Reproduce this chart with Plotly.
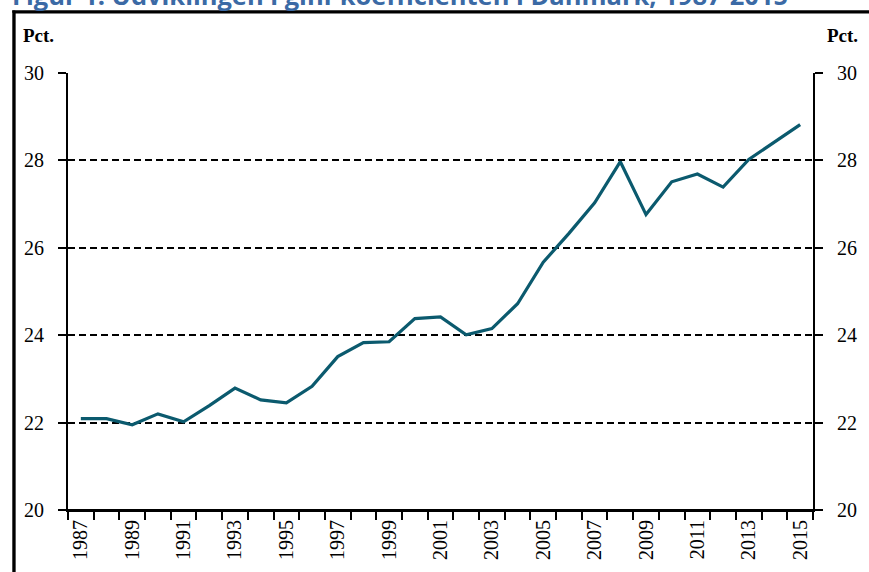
import plotly.graph_objects as go

years = list(range(1987, 2016))
gini = [22.09, 22.09, 21.95, 22.20, 22.02, 22.39, 22.79, 22.52, 22.45, 22.83,
        23.51, 23.83, 23.85, 24.38, 24.42, 24.01, 24.15, 24.72, 25.67, 26.33,
        27.03, 27.97, 26.76, 27.51, 27.69, 27.39, 28.02, 28.41, 28.82]
tick_years = list(range(1987, 2016, 2))
y_ticks = [20, 22, 24, 26, 28, 30]

title_text = "Figur 1. Udviklingen i gini-koefficienten i Danmark, 1987-2015"
unit_label = "Pct."

W, H = 869, 572
L, R, T, B = 68, 52, 73, 58
pw, ph = W - L - R, H - T - B

def px_x(px):
    return (px - L) / pw

def px_y(py):
    return (H - B - py) / ph

fig = go.Figure()
fig.add_trace(go.Scatter(x=years, y=gini, mode="lines",
                         line=dict(color="#0b5a6e", width=3.2), hoverinfo="x+y"))
fig.add_trace(go.Scatter(x=years, y=gini, mode="lines", yaxis="y2",
                         line=dict(color="rgba(0,0,0,0)", width=0), hoverinfo="skip"))

tickfont = dict(family="Liberation Serif", size=20, color="black")

fig.update_layout(
    width=W, height=H,
    margin=dict(l=L, r=R, t=T, b=B),
    paper_bgcolor="white", plot_bgcolor="white",
    showlegend=False,
    xaxis=dict(range=[1986.5, 2015.5], tickmode="array", tickvals=tick_years,
               ticktext=[str(y) for y in tick_years], tickangle=-90,
               ticks="", ticklen=0, showgrid=False, zeroline=False,
               showline=True, linecolor="black", linewidth=2,
               tickfont=tickfont,
               minor=dict(tick0=1986.5, dtick=1, ticks="outside", ticklen=8,
                          tickwidth=1.5, tickcolor="black", showgrid=False)),
    yaxis=dict(range=[20, 30], tickvals=y_ticks, ticks="outside", ticklen=8,
               tickwidth=1.5, tickcolor="black", showline=True, linecolor="black",
               linewidth=2, showgrid=True, gridcolor="black", gridwidth=1.6,
               griddash="7px,4px", zeroline=False, tickfont=tickfont,
               ticklabelstandoff=10),
    yaxis2=dict(range=[20, 30], tickvals=y_ticks, overlaying="y", side="right",
                ticks="outside", ticklen=8, tickwidth=1.5, tickcolor="black",
                showline=True, linecolor="black", linewidth=2, showgrid=False,
                zeroline=False, tickfont=tickfont, ticklabelstandoff=10),
)

# bottom solid line at 20
fig.add_shape(type="line", xref="paper", yref="paper", x0=0, x1=1, y0=0, y1=0,
              line=dict(color="black", width=2))

# outer frame: top edge and left edge
fig.add_shape(type="line", xref="paper", yref="paper", x0=px_x(12), x1=px_x(880),
              y0=px_y(11), y1=px_y(11), line=dict(color="black", width=2.5),
              layer="above")
fig.add_shape(type="line", xref="paper", yref="paper", x0=px_x(13.5), x1=px_x(13.5),
              y0=px_y(10), y1=px_y(590), line=dict(color="black", width=3),
              layer="above")
# frame as bordered box too (left + top edges fall on the page)
fig.add_annotation(text=" ", xref="paper", yref="paper",
                   x=px_x(12.5), y=px_y(10), xanchor="left", yanchor="top",
                   width=900, height=620, showarrow=False, borderpad=0,
                   bordercolor="black", borderwidth=2.5)

fig.add_annotation(text="<b>" + title_text + "</b>", xref="paper", yref="paper",
                   x=px_x(10), y=px_y(13), xanchor="left", yanchor="bottom",
                   showarrow=False,
                   font=dict(family="Open Sans", size=25.5, color="#3b6aa5"))
fig.add_annotation(text="<b>" + unit_label + "</b>", xref="paper", yref="paper",
                   x=px_x(21), y=px_y(35), xanchor="left", yanchor="middle",
                   showarrow=False,
                   font=dict(family="Liberation Serif", size=19, color="black"))
fig.add_annotation(text="<b>" + unit_label + "</b>", xref="paper", yref="paper",
                   x=px_x(864), y=px_y(35), xanchor="right", yanchor="middle",
                   showarrow=False,
                   font=dict(family="Liberation Serif", size=19, color="black"))

fig.write_html("out.html", config={"displayModeBar": False},
               post_script="document.body.style.margin='0';document.body.style.padding='0';document.body.style.overflow='hidden';")
